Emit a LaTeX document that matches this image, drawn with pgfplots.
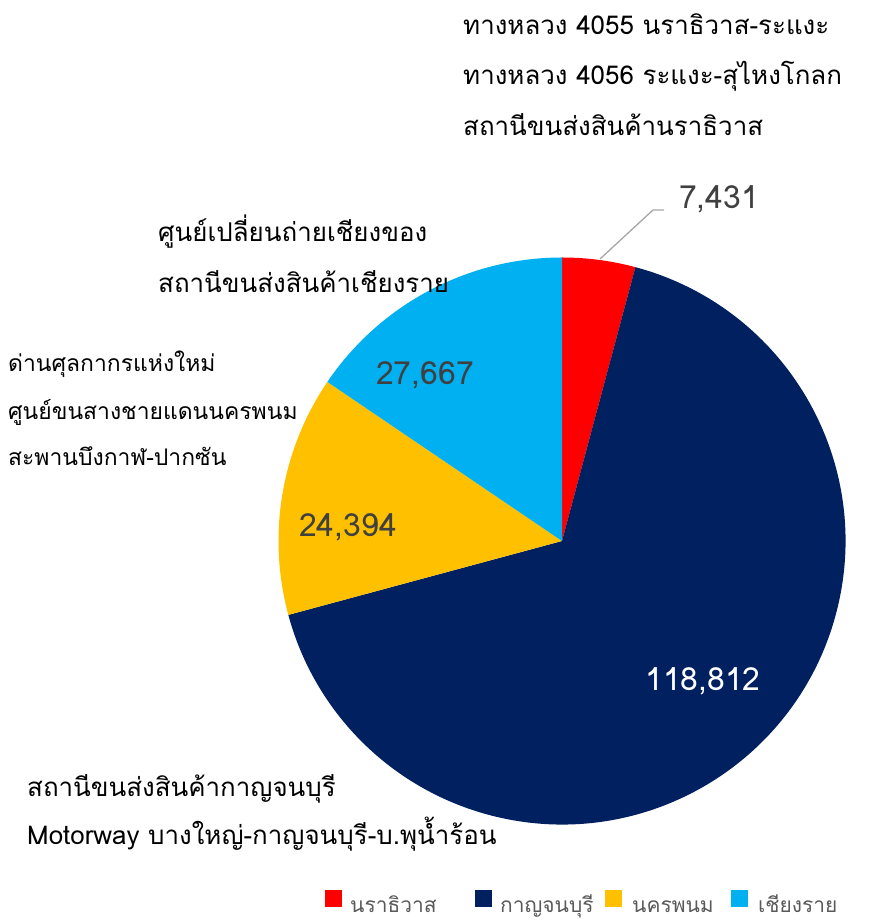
\documentclass[border=0pt]{standalone}
\usepackage{fontspec}
\setmainfont[Script=Thai]{Loma}
\usepackage{pgfplots}
\pgfplotsset{compat=1.18}
\usepackage{pgfplotstable}

\definecolor{cNara}{HTML}{FF0000}
\definecolor{cKan}{HTML}{002060}
\definecolor{cNak}{HTML}{FFC000}
\definecolor{cChi}{HTML}{00B0F0}
\definecolor{lbl}{HTML}{404040}
\definecolor{leg}{HTML}{595959}

% freight volume by province
\pgfplotstableread{
name value
Narathiwat 7431
Kanchanaburi 118812
NakhonPhanom 24394
ChiangRai 27667
}\piedata

\pgfplotstablegetelem{0}{value}\of\piedata \let\vA\pgfplotsretval
\pgfplotstablegetelem{1}{value}\of\piedata \let\vB\pgfplotsretval
\pgfplotstablegetelem{2}{value}\of\piedata \let\vC\pgfplotsretval
\pgfplotstablegetelem{3}{value}\of\piedata \let\vD\pgfplotsretval
\edef\total{\fpeval{\vA+\vB+\vC+\vD}}
\edef\aO{90}
\edef\aA{\fpeval{90-360*\vA/\total}}
\edef\aB{\fpeval{\aA-360*\vB/\total}}
\edef\aC{\fpeval{\aB-360*\vC/\total}}
\edef\aD{\fpeval{\aC-360*\vD/\total}}
\def\R{283.5bp}

\begin{document}
\begin{tikzpicture}
\begin{axis}[
    width=895bp, height=923bp, scale only axis,
    xmin=0, xmax=895, ymin=0, ymax=923,
    hide axis, clip=false,
    /pgf/number format/.cd, fixed, precision=0, 1000 sep={,}, assume math mode=true,
]
\path (axis cs:0,0) rectangle (axis cs:895,923);
\fill[cNara] (axis cs:562,382) -- ++(\aO:\R) arc[start angle=\aO, end angle=\aA, radius=\R] -- cycle;
\fill[cKan]  (axis cs:562,382) -- ++(\aA:\R) arc[start angle=\aA, end angle=\aB, radius=\R] -- cycle;
\fill[cNak]  (axis cs:562,382) -- ++(\aB:\R) arc[start angle=\aB, end angle=\aC, radius=\R] -- cycle;
\fill[cChi]  (axis cs:562,382) -- ++(\aC:\R) arc[start angle=\aC, end angle=\aD, radius=\R] -- cycle;

% data labels
\draw[black!35, line width=1.3bp] (axis cs:600,664) -- (axis cs:653,713) -- (axis cs:664,713);
\begin{scope}[every node/.style={font=\fontsize{32}{38}\selectfont, inner sep=0pt}]
\node[lbl, anchor=base west] at (axis cs:679,714) {\pgfmathprintnumber{\vA}};
\node[white, anchor=base] at (axis cs:703,232) {\pgfmathprintnumber{\vB}};
\node[lbl, anchor=base] at (axis cs:348,386) {\pgfmathprintnumber{\vC}};
\node[lbl, anchor=base] at (axis cs:425,538) {\pgfmathprintnumber{\vD}};
\end{scope}

% category notes
\begin{scope}[every node/.style={anchor=base west, font=\fontsize{26}{30}\selectfont, inner sep=0pt}]
\node at (axis cs:463,888) {ทางหลวง 4055 นราธิวาส-ระแงะ};
\node at (axis cs:463,838) {ทางหลวง 4056 ระแงะ-สุไหงโกลก};
\node at (axis cs:463,787) {สถานีขนส่งสินค้านราธิวาส};
\node at (axis cs:158,681) {ศูนย์เปลี่ยนถ่ายเชียงของ};
\node at (axis cs:158,630) {สถานีขนส่งสินค้าเชียงราย};
\node at (axis cs:27,126) {สถานีขนส่งสินค้ากาญจนบุรี};
\node at (axis cs:27,78) {Motorway บางใหญ่-กาญจนบุรี-บ.พุน้ำร้อน};
\end{scope}
\begin{scope}[every node/.style={anchor=base west, font=\fontsize{23}{27}\selectfont, inner sep=0pt}]
\node at (axis cs:8,551) {ด่านศุลกากรแห่งใหม่};
\node at (axis cs:8,503) {ศูนย์ขนสางชายแดนนครพนม};
\node at (axis cs:8,457) {สะพานบึงกาฬ-ปากซัน};
\end{scope}

% legend
\begin{scope}[every node/.style={anchor=base west, leg, font=\fontsize{21}{25}\selectfont, inner sep=0pt}]
\fill[cNara] (axis cs:325,16) rectangle (axis cs:342,33);
\node at (axis cs:350,11) {นราธิวาส};
\fill[cKan] (axis cs:475,16) rectangle (axis cs:492,33);
\node at (axis cs:500,11) {กาญจนบุรี};
\fill[cNak] (axis cs:605,16) rectangle (axis cs:622,33);
\node at (axis cs:632,11) {นครพนม};
\fill[cChi] (axis cs:731,16) rectangle (axis cs:748,33);
\node at (axis cs:758,11) {เชียงราย};
\end{scope}
\end{axis}
\end{tikzpicture}
\end{document}
